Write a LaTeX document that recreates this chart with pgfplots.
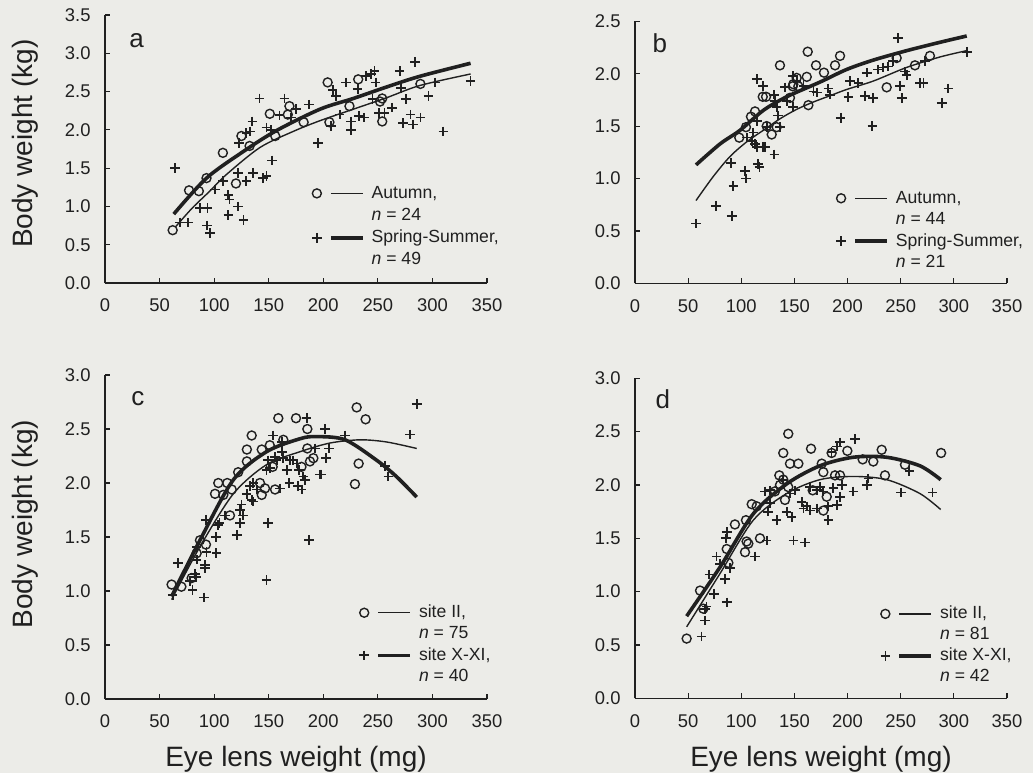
\documentclass[border=0pt]{standalone}
\usepackage{pgfplots}
\pgfplotsset{compat=1.18}
\usepackage{fontspec}
\setmainfont{Liberation Sans}
\definecolor{ink}{RGB}{32,32,32}
\definecolor{paper}{RGB}{236,236,232}
\tikzset{letter/.style={font=\fontsize{13}{15}\selectfont, text=ink}}

\pgfplotsset{
  panel/.style={
    scale only axis, axis lines=left,
    axis line style={-, line width=0.65pt, draw=ink},
    tick align=inside, major tick length=2.5pt,
    tick style={line width=0.6pt, draw=ink},
    xmin=0, xmax=350, xtick={0,50,100,150,200,250,300,350},
    ymin=0,
    tick label style={font=\fontsize{9.2}{10}\selectfont, text=ink},
    yticklabel style={/pgf/number format/fixed, /pgf/number format/fixed zerofill,
      /pgf/number format/precision=1, /pgf/number format/assume math mode=true, xshift=-3.7pt},
    xticklabel style={/pgf/number format/assume math mode=true, yshift=-4.5pt},
    label style={font=\fontsize{14}{16}\selectfont, text=ink},
    legend cell align=left,
    legend style={draw=none, fill=none, inner sep=0pt, anchor=north west,
      font=\fontsize{8.8}{10}\selectfont, text=ink, column sep=3pt,
      nodes={inner sep=0.5pt, text height=7pt, text depth=2.2pt}},
  },
  circ/.style={only marks, mark=o, mark size=2.25pt, mark options={line width=0.7pt, draw=ink}, forget plot},
  plus/.style={only marks, mark=+, mark size=2.4pt, mark options={line width=0.85pt, draw=ink}, forget plot},
  thinfit/.style={no marks, smooth, line width=0.7pt, draw=ink, forget plot},
  thickfit/.style={no marks, smooth, line width=1.8pt, draw=ink, forget plot},
  legcirc/.style={legend image code/.code={
      \draw[mark=o, mark size=2.25pt, mark options={line width=0.7pt, draw=ink}] plot coordinates {(0pt,0pt)};
      \draw[line width=0.7pt, draw=ink] (7pt,0pt) -- (23pt,0pt);}},
  legplus/.style={legend image code/.code={
      \draw[mark=+, mark size=2.4pt, mark options={line width=0.85pt, draw=ink}] plot coordinates {(0pt,0pt)};
      \draw[line width=1.8pt, draw=ink] (7pt,0pt) -- (23pt,0pt);}},
}

\begin{document}
\begin{tikzpicture}
\fill[paper] (0,0) rectangle (516.5pt,-386.5pt);
\path[use as bounding box] (0,0) rectangle (516.5pt,-386.5pt);

% ---- a ----
\begin{axis}[panel, at={(52.5pt,-141.5pt)}, anchor=south west,
  width=191pt, height=134pt, ymax=3.5,
  ytick={0,0.5,1,1.5,2,2.5,3,3.5},
  ylabel={Body weight (kg)},
  ylabel style={at={(axis description cs:-0.209,0.52)}, anchor=center},
  legend style={at={(axis description cs:0.541,0.374)}, row sep=0.9pt}]
\addplot[circ] coordinates {(62,0.69)(77,1.21)(86,1.20)(93,1.37)(108,1.70)(120,1.30)(125,1.92)(132.5,1.79)(151,2.21)(156,1.92)(167.5,2.20)(169,2.31)(182,2.10)(204,2.62)(205.6,2.10)(224,2.31)(232,2.66)(252,2.37)(254,2.41)(254,2.11)(289,2.60)};
\addplot[plus] coordinates {(64,1.50)(68.5,0.79)(76,0.79)(87,0.98)(94,0.98)(93.5,0.75)(96,0.65)(101,1.22)(108,1.33)(113,1.15)(114,1.09)(113,0.89)(122,1.00)(127,0.82)(122,1.44)(129.5,1.33)(135.5,1.44)(144.7,1.37)(148,1.40)(153,1.60)(129.5,1.96)(123,1.83)(132.8,1.98)(135,2.11)(141.6,2.41)(148,2.03)(152,2.00)(160,2.19)(164.5,2.41)(170.6,2.16)(175,2.27)(187,2.33)(195,1.83)(207,2.05)(208.6,2.52)(211.7,2.44)(215,2.20)(221,2.62)(225.5,2.11)(225.5,2.00)(231.5,2.53)(233,2.18)(237.6,2.16)(239,2.70)(244,2.73)(247,2.77)(248,2.62)(245,2.40)(251,2.22)(256,2.22)(263,2.29)(270,2.77)(271,2.55)(273,2.09)(276,2.40)(280,2.20)(282,2.07)(289,2.16)(284,2.89)(296.5,2.44)(302.5,2.62)(310,1.98)(335,2.64)};
\addplot[thinfit] coordinates {(65,0.74)(80,0.98)(96,1.20)(111.5,1.42)(142,1.77)(172.5,1.98)(197,2.12)(227.5,2.27)(258,2.42)(288.6,2.58)(335,2.73)};
\addplot[thickfit] coordinates {(63,0.90)(93,1.37)(127,1.72)(157,1.99)(197,2.27)(227.5,2.41)(258,2.56)(288.6,2.70)(335,2.87)};
\addlegendimage{legcirc}\addlegendentry{Autumn,}
\addlegendimage{empty legend}\addlegendentry{\textit{n} = 24}
\addlegendimage{legplus}\addlegendentry{Spring-Summer,}
\addlegendimage{empty legend}\addlegendentry{\textit{n} = 49}
\node[letter] at (axis description cs:0.083,0.905) {a};
\end{axis}

% ---- b ----
\begin{axis}[panel, at={(317.5pt,-141.65pt)}, anchor=south west,
  width=186pt, height=131pt, ymax=2.5,
  ytick={0,0.5,1,1.5,2,2.5},
  legend style={at={(axis description cs:0.540,0.365)}, row sep=0.55pt}]
\addplot[circ] coordinates {(98.1,1.39)(104.4,1.49)(109.1,1.59)(112.9,1.64)(120.2,1.78)(123.3,1.78)(123.9,1.50)(128.6,1.42)(133.3,1.49)(136.4,2.08)(145.8,1.77)(148.4,1.88)(148.9,1.90)(153.7,1.88)(152.1,1.96)(161.6,1.97)(162.5,2.21)(163.1,1.70)(170.3,2.08)(177.8,2.01)(188.2,2.08)(192.9,2.17)(236.8,1.87)(246.2,2.15)(263.4,2.08)(277.5,2.17)};
\addplot[plus] coordinates {(57.4,0.57)(76.2,0.74)(91.0,0.64)(92.5,0.93)(90.3,1.15)(103.5,1.07)(104.4,1.00)(116,1.14)(117,1.11)(131.1,1.23)(105.1,1.39)(109.8,1.36)(112.9,1.33)(114.5,1.30)(120.7,1.30)(122.3,1.30)(111.3,1.44)(115.1,1.55)(123.9,1.49)(114.5,1.95)(120.7,1.88)(130.8,1.80)(131.7,1.74)(133.3,1.68)(134.8,1.60)(136.4,1.49)(141.1,1.87)(142.7,1.74)(148.9,1.68)(148.9,1.98)(152.1,1.93)(158.4,1.88)(167.8,1.83)(171,1.82)(181.9,1.86)(183.5,1.80)(193.5,1.58)(200.7,1.78)(202.3,1.93)(210.1,1.91)(216.4,1.79)(224.2,1.77)(218,2.01)(228.9,2.04)(233.6,2.06)(238.3,2.07)(223.3,1.50)(243,2.12)(247.7,2.34)(249.3,1.88)(251,1.77)(254,2.02)(255.6,1.99)(268.2,1.91)(271.3,1.91)(272.9,2.12)(288.6,1.72)(294.8,1.86)(312.1,2.21)};
\addplot[thinfit] coordinates {(57.4,0.79)(73.7,1.02)(89.4,1.21)(105.1,1.35)(120.7,1.46)(136.4,1.57)(152.1,1.66)(167.8,1.73)(183.5,1.79)(199.2,1.85)(224.2,1.93)(255.6,2.06)(287,2.16)(312.1,2.22)};
\addplot[thickfit] coordinates {(57.4,1.13)(80,1.33)(98.8,1.46)(120.7,1.65)(142.7,1.78)(174,1.92)(199,2.04)(224.2,2.13)(255.6,2.22)(287,2.30)(312.1,2.36)};
\addlegendimage{legcirc}\addlegendentry{Autumn,}
\addlegendimage{empty legend}\addlegendentry{\textit{n} = 44}
\addlegendimage{legplus}\addlegendentry{Spring-Summer,}
\addlegendimage{empty legend}\addlegendentry{\textit{n} = 21}
\node[letter] at (axis description cs:0.067,0.915) {b};
\end{axis}

% ---- c ----
\begin{axis}[panel, at={(52.5pt,-349.5pt)}, anchor=south west,
  width=191pt, height=162pt, ymax=3,
  ytick={0,0.5,1,1.5,2,2.5,3},
  ylabel={Body weight (kg)},
  ylabel style={at={(axis description cs:-0.209,0.54)}, anchor=center},
  xlabel={Eye lens weight (mg)},
  xlabel style={at={(axis description cs:0.5,-0.207)}, anchor=base},
  legend style={at={(axis description cs:0.665,0.299)}, row sep=0.45pt}]
\addplot[circ] coordinates {(61,1.06)(70,1.04)(79.4,1.12)(84,1.35)(87,1.47)(92.5,1.43)(100.8,1.90)(103.8,2.00)(112,2.00)(108.4,1.89)(116.1,1.94)(114.5,1.70)(122,2.10)(130,2.20)(130,2.31)(134.4,2.44)(143.6,2.31)(143.6,1.89)(142,2.00)(146.6,1.95)(151,2.35)(153.6,2.15)(155.8,1.94)(158.8,2.60)(163.4,2.40)(175,2.60)(180,2.15)(185.4,2.50)(185.4,2.32)(187.8,2.20)(190.9,2.23)(230.6,2.70)(238.8,2.59)(232.4,2.18)(229,1.99)};
\addplot[plus] coordinates {(62,0.96)(67,1.26)(77.9,1.09)(80.3,1.01)(82.5,1.16)(83.4,1.13)(84,1.29)(84,1.41)(90.7,0.94)(91.6,1.21)(91.6,1.24)(93,1.36)(92.5,1.66)(102,1.35)(101.7,1.50)(103.8,1.61)(105,1.63)(110,1.70)(120.7,1.52)(123.7,1.63)(123.7,1.75)(125.2,1.80)(126.7,1.70)(129.8,1.90)(134.4,1.84)(135.9,2.00)(132.9,1.97)(139,1.94)(135.9,1.83)(148,1.10)(149.6,1.63)(148,2.12)(149.6,2.21)(151.2,2.14)(154,2.44)(155.8,2.24)(157.3,2.21)(160.3,1.95)(161.9,2.29)(161.9,2.38)(163.4,2.23)(166.5,2.12)(168.9,2.00)(169.5,2.21)(172.5,2.21)(175.6,2.18)(177.1,1.97)(178,2.12)(180.2,1.94)(181.7,2.06)(183.2,2.03)(184.8,2.60)(186.9,1.47)(192.4,2.32)(197,2.08)(198.5,2.08)(201.6,2.50)(202.5,2.23)(205.5,2.32)(219.9,2.44)(256.5,2.16)(259.6,2.06)(279.4,2.45)(285.6,2.73)};
\addplot[thinfit] coordinates {(61,0.92)(87,1.41)(117.6,1.90)(148,2.17)(178.7,2.29)(206,2.37)(233.6,2.40)(258,2.38)(285.6,2.32)};
\addplot[thickfit] coordinates {(61,0.95)(87,1.47)(117.6,2.03)(148,2.29)(178.7,2.41)(193.8,2.43)(220,2.40)(249,2.21)(267,2.06)(285.6,1.87)};
\addlegendimage{legcirc}\addlegendentry{site II,}
\addlegendimage{empty legend}\addlegendentry{\textit{n} = 75}
\addlegendimage{legplus}\addlegendentry{site X-XI,}
\addlegendimage{empty legend}\addlegendentry{\textit{n} = 40}
\node[letter] at (axis description cs:0.086,0.926) {c};
\end{axis}

% ---- d ----
\begin{axis}[panel, at={(317.5pt,-349.15pt)}, anchor=south west,
  width=186pt, height=160pt, ymax=3,
  ytick={0,0.5,1,1.5,2,2.5,3},
  xlabel={Eye lens weight (mg)},
  xlabel style={at={(axis description cs:0.5,-0.212)}, anchor=base},
  legend style={at={(axis description cs:0.659,0.297)}, row sep=0.3pt}]
\addplot[circ] coordinates {(48.6,0.56)(61.2,1.01)(64.3,0.84)(86.3,1.40)(87.8,1.27)(94,1.63)(103.5,1.37)(105,1.47)(104.4,1.67)(106.6,1.45)(109.8,1.82)(114.5,1.80)(117.6,1.50)(131.7,1.94)(135.8,2.09)(136.4,2.00)(139.5,2.30)(139.5,2.05)(141.1,1.86)(144.2,2.48)(144.2,1.98)(145.8,2.20)(153.7,2.20)(165.6,2.34)(167.2,1.95)(175.7,2.20)(177.2,2.12)(177.2,1.76)(180.4,1.89)(185,2.30)(188.2,2.09)(192.9,2.09)(199.8,2.32)(214.2,2.24)(224.2,2.22)(232.1,2.33)(235.2,2.09)(254,2.19)(288,2.30)};
\addplot[plus] coordinates {(62.7,0.58)(65.9,0.84)(65.9,0.73)(67.4,0.86)(69.9,1.16)(74.3,0.98)(76.8,1.33)(80,1.26)(84.7,1.12)(86.3,0.90)(85.6,1.50)(86.3,1.56)(89.4,1.22)(112.9,1.33)(123.9,1.48)(122.3,1.94)(127,1.83)(133.3,1.67)(125.4,1.75)(127,1.95)(139.5,2.05)(142.7,1.75)(145.8,1.92)(147.4,1.70)(149,1.48)(150.5,1.95)(160,1.46)(156.8,1.84)(158.4,1.78)(161.5,1.80)(164.6,1.98)(164.7,1.76)(171,1.78)(171,1.95)(174,1.98)(177.2,1.94)(181.9,1.80)(181.9,1.67)(185,2.31)(186.6,1.97)(189.8,2.36)(192.9,2.40)(189.8,1.81)(192.9,1.89)(194.5,2.00)(205.4,1.94)(207,2.43)(218,2.00)(219.5,2.06)(250.3,1.93)(258.1,2.13)(280,1.93)};
\addplot[thinfit] coordinates {(48.6,0.67)(80,1.17)(111.3,1.67)(142.7,1.92)(174,2.05)(205.4,2.08)(236.8,2.05)(268,1.92)(287.6,1.77)};
\addplot[thickfit] coordinates {(48.6,0.77)(80,1.23)(111.3,1.73)(142.7,2.01)(174,2.18)(205.4,2.26)(236.8,2.26)(268,2.18)(287.6,2.05)};
\addlegendimage{legcirc}\addlegendentry{site II,}
\addlegendimage{empty legend}\addlegendentry{\textit{n} = 81}
\addlegendimage{legplus}\addlegendentry{site X-XI,}
\addlegendimage{empty legend}\addlegendentry{\textit{n} = 42}
\node[letter] at (axis description cs:0.075,0.935) {d};
\end{axis}
\end{tikzpicture}
\end{document}
